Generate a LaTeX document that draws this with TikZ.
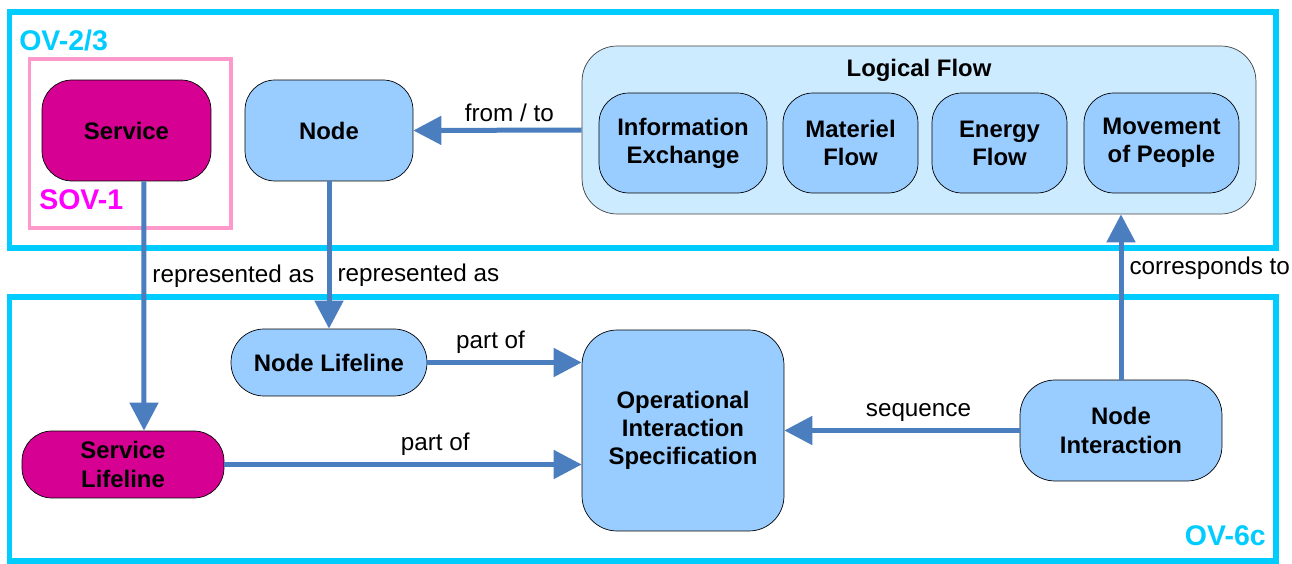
\documentclass[tikz,border=0pt]{standalone}
\usepackage{fontspec}
\setmainfont{Liberation Sans}
\usetikzlibrary{arrows.meta,positioning}
\definecolor{viewcyan}{HTML}{00CCFF}
\definecolor{svcpink}{HTML}{FF99CC}
\definecolor{svcmagenta}{HTML}{FF00FF}
\definecolor{svcfill}{HTML}{D60093}
\definecolor{nodefill}{HTML}{99CCFF}
\definecolor{flowfill}{HTML}{CCEBFF}
\definecolor{arrblue}{HTML}{4A7EBF}
\tikzset{
  bluebox/.style={draw, rounded corners=0.6cm, fill=nodefill, align=center,
    inner sep=0pt, font=\fontsize{13.6}{16}\selectfont\bfseries},
  magbox/.style={bluebox, fill=svcfill},
  lifebox/.style={bluebox, rounded corners=0.66cm, minimum width=3.96cm, minimum height=1.34cm},
  bigbox/.style={bluebox, rounded corners=0.7cm},
  viewframe/.style={draw=viewcyan, line width=0.12cm},
  viewlabel/.style={text=viewcyan, inner sep=0pt, font=\fontsize{16.2}{19}\selectfont\bfseries},
  lbl/.style={font=\fontsize{13.8}{16}\selectfont, inner sep=0.12cm},
  flowarr/.style={-{Triangle[length=0.56cm, width=0.56cm]}, line width=0.1cm, draw=arrblue}
}
\begin{document}
\begin{tikzpicture}[x=0.02cm, y=-0.02cm]
  \useasboundingbox (0,0) rectangle (1292,564);
  % view frames
  \draw[viewframe] (9.5,12.5) rectangle (1276,248);
  \draw[viewframe] (9.5,297) rectangle (1276,560.5);
  \draw[draw=svcpink, line width=0.08cm] (29.5,59.5) rectangle (231,228.5);
  \node[viewlabel, anchor=west] (ov23) at (19,40) {OV-2/3};
  \node[viewlabel, anchor=west, text=svcmagenta] (sov1) at (39,200) {SOV-1};
  \node[viewlabel, anchor=east] (ov6c) at (1266,536) {OV-6c};

  % OV-2/3
  \node[magbox, minimum width=3.38cm, minimum height=2.02cm] (service) at (126.5,130.5) {Service};
  \node[bluebox, minimum width=3.36cm, minimum height=2.02cm] (node) at (329,130.5) {Node};
  \node[bigbox, fill=flowfill, draw=black!75, minimum width=13.48cm, minimum height=3.36cm] (flow) at (919,130) {};
  \node[font=\fontsize{13.6}{16}\selectfont\bfseries] (flowtitle) at (919,70) {Logical Flow};
  \node[bluebox, minimum width=3.36cm, minimum height=2cm] (infoex) at (683,143) {Information\\Exchange};
  \node[bluebox, minimum width=2.7cm, minimum height=2cm] (materiel) at (850.5,143) {Materiel\\Flow};
  \node[bluebox, minimum width=2.7cm, minimum height=2cm] (energy) at (999.5,143) {Energy\\Flow};
  \node[bluebox, minimum width=3.1cm, minimum height=2cm] (people) at (1161.5,143) {Movement\\of People};

  % OV-6c
  \node[lifebox, minimum width=3.92cm] (nodelife) at (329,362.5) {Node Lifeline};
  \node[lifebox, magbox, minimum width=4.04cm] (svclife) at (123,464.5) {Service\\Lifeline};
  \node[bigbox, minimum width=4.04cm, minimum height=4.02cm] (ois) at (683,430.5) {Operational\\Interaction\\Specification};
  \node[bigbox, minimum width=4.04cm, minimum height=2.02cm] (nodeint) at (1121,430.5) {Node\\Interaction};

  % connectors
  \draw[flowarr] (flow.west) -- node[lbl, above, pos=0.43] {from / to} (node.east);
  \draw[flowarr] ([xshift=0.35cm]service.south) -- node[lbl, right, pos=0.38] {represented as} ([xshift=0.42cm]svclife.north);
  \draw[flowarr] (node.south) -- node[lbl, right, pos=0.64] {represented as} (nodelife.north);
  \draw[flowarr] (nodelife.east) -- node[lbl, above, pos=0.41] {part of} (nodelife.east -| ois.west);
  \draw[flowarr] (svclife.east) -- node[lbl, above, pos=0.59] {part of} (svclife.east -| ois.west);
  \draw[flowarr] (nodeint.west) -- node[lbl, above, pos=0.43] {sequence} (nodeint.west -| ois.east);
  \draw[flowarr] (nodeint.north) -- node[lbl, right, pos=0.675] {corresponds to} (nodeint.north |- flow.south);
\end{tikzpicture}
\end{document}
